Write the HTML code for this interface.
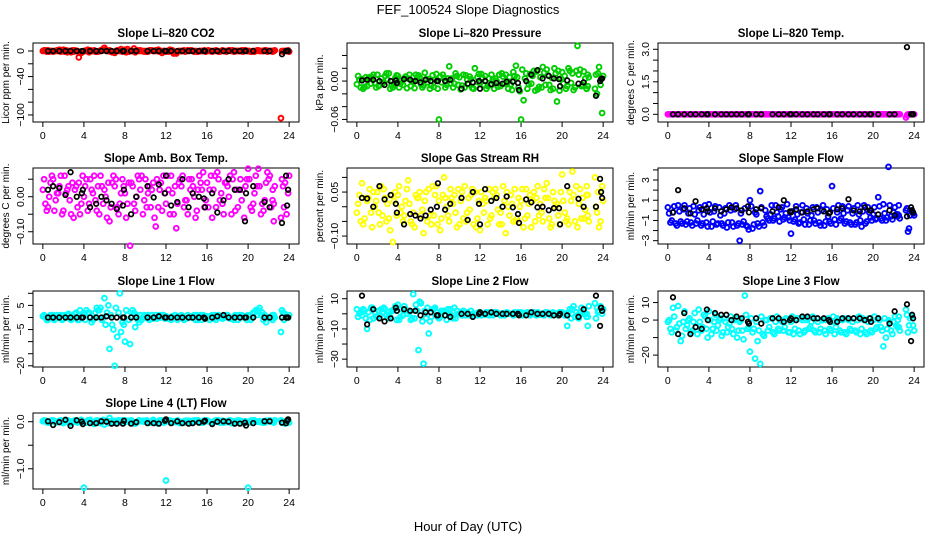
<!DOCTYPE html>
<html><head><meta charset="utf-8"><style>
body{margin:0;background:#fff;}
svg text{font-family:"Liberation Sans",sans-serif;fill:#000;}
</style></head><body>
<svg id="chart" width="936" height="540" viewBox="0 0 936 540" xmlns="http://www.w3.org/2000/svg">
<text x="468" y="14" font-size="13" text-anchor="middle">FEF_100524  Slope Diagnostics</text>
<text x="468" y="531" font-size="13" text-anchor="middle">Hour of Day (UTC)</text>
</svg>
<script>
const hoursColorA=[0,0.5,1,1.5,2,2.5,3,3.5,4,4.5,5,5.5,6,6.5,7,7.5,8,8.5,9,9.5,10,10.5,11,11.5,12,12.5,13,13.5,14,14.5,15,15.5,16,16.5,17,17.5,18,18.5,19,19.5,20,20.5,21,21.5,22,22.5,23.2,23.6];
const hoursColorB=[0.25,0.75,1.25,1.75,2.25,2.75,3.25,3.75,4.25,4.75,5.25,5.75,6.25,6.75,7.25,7.75,8.25,8.75,9.25,9.75,10.25,10.75,11.25,11.75,12.25,12.75,13.25,13.75,14.25,14.75,15.25,15.75,16.25,16.75,17.25,17.75,18.25,18.75,19.25,19.75,20.25,20.75,21.25,21.75,22.25,22.5,23.4,23.9];
const hoursColorC=[0.12,0.62,1.12,1.62,2.12,2.62,3.12,3.62,4.12,4.62,5.12,5.62,6.12,6.62,7.12,7.62,8.12,8.62,9.12,9.62,10.12,10.62,11.12,11.62,12.12,12.62,13.12,13.62,14.12,14.62,15.12,15.62,16.12,16.62,17.12,17.62,18.12,18.62,19.12,19.62,20.12,20.62,21.12,21.62,22.12,22.4,23.3,23.75];
const hoursColorD=[0.38,0.88,1.38,1.88,2.38,2.88,3.38,3.88,4.38,4.88,5.38,5.88,6.38,6.88,7.38,7.88,8.38,8.88,9.38,9.88,10.38,10.88,11.38,11.88,12.38,12.88,13.38,13.88,14.38,14.88,15.38,15.88,16.38,16.88,17.38,17.88,18.38,18.88,19.38,19.88,20.38,20.88,21.38,21.88,22.38,22.6,23.5,24.0];
const hoursBlack=[0.5,1.0,1.6,2.2,2.7,3.3,3.8,3.9,4.6,5.2,5.7,6.2,6.7,7.2,7.8,7.9,8.6,9.1,10.2,10.8,11.3,11.9,12.0,12.5,13.1,13.6,14.2,14.6,15.2,15.7,15.8,16.5,17.0,17.6,18.1,18.7,19.2,19.7,19.8,20.5,21.6,22.1,23.3,23.7,23.8,23.9];

const co2A=[0,1,-1,0,2,0,-1,-10,0,-2,1,0,5,1,-3,0,2,0,-2,1,0,1,1,0,-1,1,-4,0,0,1,-1,0,0,-1,0,1,0,1,0,-1,0,0,1,0,0,0,-105,0];
const co2B=[1,0,0,-1,1,-2,0,-3,1,0,-1,2,0,-2,1,-1,3,0,1,0,-1,0,2,0,-1,-4,0,1,0,-1,0,1,0,0,-1,0,1,0,0,1,-1,0,0,1,0,0,-1,1];
const co2C=[1,-1,0,2,-1,0,1,-2,0,1,-1,0,2,-1,0,3,-2,0,1,0,-1,1,0,-3,0,1,-1,0,1,0,-1,0,1,0,-1,0,1,-1,0,1,0,-1,0,1,0,-1,0,0];
const co2D=[-1,0,1,0,-2,1,0,-1,2,0,-1,1,0,-2,1,0,-1,4,0,-1,1,0,-1,0,2,-2,0,-1,1,0,0,-1,0,1,0,-1,0,0,1,0,-1,1,0,-1,0,1,0,-1];
const co2K=[0,0,0,0,0,0,0,0,0,0,0,0,0,0,0,0,0,0,0,0,0,0,0,0,0,0,0,0,0,0,0,0,0,0,0,0,0,0,0,0,0,0,-5,0,0,0];

const presA=[-0.005,0.003,-0.008,0.006,0.010,-0.004,0.002,-0.010,0.008,-0.006,0.004,-0.002,0.009,-0.007,0.003,-0.009,-0.060,0.005,0.023,-0.004,0.006,-0.010,0.007,0.020,-0.003,0.008,-0.006,0.004,-0.008,0.010,-0.005,0.024,-0.060,0.012,-0.004,0.015,-0.010,0.018,0.005,-0.032,0.014,-0.008,0.012,0.055,-0.006,0.010,-0.012,0.022];
const presB=[0.002,-0.009,0.006,-0.003,-0.006,0.008,-0.012,0.005,-0.004,0.007,-0.008,0.010,-0.005,0.003,-0.007,0.011,-0.002,-0.006,0.004,0.008,-0.007,0.002,-0.011,0.006,0.005,-0.008,0.003,-0.009,0.007,-0.012,0.014,-0.010,-0.030,-0.005,0.016,-0.009,0.013,-0.006,0.020,-0.015,0.008,0.016,-0.010,0.018,0.004,-0.008,-0.020,-0.050];
const presC=[0.008,-0.012,0.004,0.010,-0.008,-0.002,0.012,-0.006,-0.010,0.004,0.010,-0.011,0.006,0.013,-0.012,0.002,0.007,-0.010,-0.004,0.012,-0.013,0.009,0.003,-0.008,0.011,-0.012,0.010,0.000,0.012,-0.004,-0.014,0.006,0.018,-0.012,0.008,-0.013,0.022,0.009,-0.012,0.016,-0.004,0.020,-0.014,0.010,0.015,-0.012,0.010,-0.006];
const presD=[-0.010,0.006,-0.004,-0.010,0.004,0.012,-0.006,0.009,0.001,-0.011,0.000,0.006,-0.010,-0.002,0.009,-0.012,0.010,0.004,-0.010,-0.006,0.010,-0.005,-0.012,0.011,-0.006,0.004,-0.012,0.010,-0.004,0.006,0.008,-0.016,0.004,0.011,-0.015,0.006,-0.006,-0.014,0.012,0.004,-0.012,-0.003,0.016,-0.008,-0.012,0.006,0.012,0.008];
const presK=[0.001,0.002,0.002,0.000,-0.006,0.000,0.001,-0.003,0.003,0.002,0.000,-0.002,0.002,0.000,0.000,0.000,0.000,0.002,-0.012,-0.004,-0.002,0.000,-0.012,0.000,-0.005,-0.003,-0.004,-0.001,-0.001,-0.003,-0.014,0.000,0.010,0.017,0.004,0.008,0.004,0.003,-0.008,0.001,-0.004,-0.002,-0.023,0.000,0.003,0.004];

const tempA=[0,0,0,0,0,0,0,0,0,0,0,0,0,0,0,0,0,0,0,0,0,0,0,0,0,0,0,0,0,0,0,0,0,0,0,0,0,0,0,0,0,0,0,0,0,0,-0.15,0];
const tempB=[0,0,0,0,0,0,0,0,0,0,0,0,0,0,0,0,0,0,0,0,0,0,0,0,0,0,0,0,0,0,0,0,0,0,0,0,0,0,0,0,0,0,0,0,0,0,0,0];
const tempC=[0,0,0,0,0,0,0,0,0,0,0,0,0,0,0,0,0,0,0,0,0,0,0,0,0,0,0,0,0,0,0,0,0,0,0,0,0,0,0,0,0,0,0,0,0,0,-0.05,0];
const tempD=[0,0,0,0,0,0,0,0,0,0,0,0,0,0,0,0,0,0,0,0,0,0,0,0,0,0,0,0,0,0,0,0,0,0,0,0,0,0,0,0,0,0,0,0,0,0,0,0];
const tempK=[0,0,0,0,0,0,0,0,0,0,0,0,0,0,0,0,0,0,0,0,0,0,0,0,0,0,0,0,0,0,0,0,0,0,0,0,0,0,0,0,0,0,3.1,0,0,0];

const ambA=[0.02,-0.03,0.05,0.01,-0.04,0.03,-0.06,0.04,0.00,-0.02,0.06,-0.05,0.02,-0.07,0.03,-0.02,0.01,-0.14,-0.04,0.02,0.05,-0.03,-0.085,0.04,-0.02,0.06,-0.09,0.03,-0.01,0.05,-0.04,0.02,0.04,-0.06,0.07,-0.02,0.03,0.05,-0.03,0.02,0.08,-0.02,0.08,-0.04,0.05,-0.02,-0.06,0.04];
const ambB=[-0.02,0.04,-0.01,0.06,0.01,-0.05,0.03,-0.02,0.05,0.02,-0.04,0.03,-0.06,0.04,-0.03,0.05,-0.02,0.03,0.06,-0.05,0.01,0.04,-0.03,0.06,0.02,-0.05,0.04,-0.03,0.05,0.00,0.06,-0.03,0.02,0.06,-0.01,0.04,0.06,-0.04,0.05,0.03,-0.03,0.06,-0.05,0.04,-0.03,-0.07,0.03,0.01];
const ambC=[0.05,0.00,-0.04,0.03,0.06,-0.01,0.02,-0.05,0.03,0.05,-0.01,0.06,0.00,-0.03,0.05,0.01,-0.06,0.04,0.00,0.06,-0.03,0.02,0.05,-0.04,0.06,0.01,-0.02,0.06,-0.05,0.03,0.02,0.07,-0.03,0.02,0.05,-0.05,0.00,0.07,0.02,-0.06,0.05,0.01,0.03,-0.01,0.06,0.02,0.05,-0.05];
const ambD=[-0.04,0.06,0.01,-0.05,0.02,0.04,-0.03,0.06,-0.04,0.01,0.03,-0.02,0.04,0.06,-0.05,0.03,0.04,-0.02,0.05,-0.01,0.03,-0.06,0.02,0.01,-0.05,0.03,0.05,-0.01,0.02,-0.06,0.04,-0.01,0.06,-0.03,0.01,0.04,-0.05,0.02,-0.01,0.05,-0.04,0.03,-0.02,0.07,-0.01,0.03,-0.03,0.06];
const ambK=[0.02,0.03,0.025,0.005,0.07,0.00,0.01,0.02,-0.03,-0.02,0.00,-0.01,-0.02,-0.035,-0.025,0.02,-0.05,0.00,0.03,-0.002,0.035,0.01,0.06,-0.025,-0.015,0.05,-0.03,0.01,0.00,-0.005,-0.03,0.01,-0.045,-0.01,0.05,0.02,0.02,-0.07,0.01,0.03,-0.015,-0.03,-0.075,0.06,-0.025,0.02];

const rhA=[-0.02,0.08,0.02,-0.07,0.05,-0.03,0.01,-0.12,0.04,-0.05,0.09,-0.02,0.03,-0.09,0.06,-0.03,0.02,0.10,-0.05,0.04,-0.06,0.07,-0.01,0.05,-0.08,0.03,-0.04,0.06,-0.02,-0.09,0.04,-0.05,0.02,0.06,-0.07,0.03,-0.02,0.08,-0.06,0.01,0.11,-0.04,0.12,-0.07,0.03,-0.03,0.10,-0.07];
const rhB=[0.04,-0.04,0.06,0.00,-0.06,0.03,-0.08,0.05,-0.02,0.02,-0.05,0.04,-0.03,0.05,-0.06,0.07,-0.04,0.00,0.03,-0.07,0.05,-0.02,0.06,-0.04,0.01,-0.06,0.05,-0.01,0.07,0.00,-0.05,0.03,-0.07,0.01,0.05,-0.03,0.06,-0.04,0.02,-0.06,-0.02,0.05,-0.05,0.06,-0.01,0.04,-0.02,0.07];
const rhC=[0.01,-0.06,0.03,0.05,-0.02,0.06,-0.04,0.02,0.07,-0.03,0.01,-0.07,0.05,0.02,-0.03,0.04,-0.08,0.03,0.06,-0.02,0.02,-0.05,0.04,-0.07,0.05,0.02,-0.03,0.04,-0.06,0.05,0.01,-0.04,0.06,-0.03,0.02,0.07,-0.05,0.03,0.05,-0.03,0.02,-0.06,0.04,0.01,-0.04,0.07,0.00,-0.05];
const rhD=[-0.05,0.03,-0.02,0.02,0.07,-0.05,0.04,-0.03,0.00,0.06,-0.06,0.03,-0.01,-0.05,0.07,-0.06,0.04,-0.03,0.01,0.06,-0.04,0.03,-0.06,0.02,-0.02,0.06,0.03,-0.06,0.02,-0.03,0.06,0.00,-0.04,0.04,-0.05,0.01,0.03,-0.07,0.00,0.05,-0.05,0.02,0.07,-0.04,0.04,-0.05,0.05,0.02];
const rhK=[0.03,0.028,0.00,0.07,0.025,0.04,0.01,-0.02,-0.06,-0.025,-0.03,-0.04,-0.03,-0.01,0.00,0.08,-0.01,0.01,0.03,-0.045,0.05,0.01,-0.06,0.06,0.02,0.03,0.00,0.035,-0.002,-0.025,-0.055,0.025,0.015,-0.002,0.00,-0.012,-0.005,-0.005,-0.06,0.07,0.027,0.00,0.00,0.095,0.05,0.03];

const sampA=[0.3,-0.2,0.5,0.1,-0.3,0.4,0.0,-0.4,0.6,-0.1,0.3,-0.3,0.5,0.1,-3.0,0.2,1.0,-0.2,1.9,0.0,-0.4,0.5,0.1,-0.3,-2.3,0.4,-0.2,0.2,-0.5,0.3,0.0,0.1,2.4,-0.2,0.4,0.0,-0.3,0.5,-0.1,0.3,-0.4,1.3,0.6,4.3,-0.2,0.5,0.0,-0.5];
const sampB=[-1.2,-1.3,-1.1,-1.4,-1.2,-1.3,-1.5,-1.2,-1.6,-1.4,-1.3,-1.7,-1.2,-1.5,-1.4,-1.6,-1.8,-1.3,-1.2,-0.8,-1.0,-0.6,-0.9,-0.7,-1.1,-1.3,-0.9,-1.4,-1.0,-1.2,-1.5,-1.1,-0.9,-1.0,-1.3,-1.2,-1.4,-1.0,-1.3,-0.7,-0.9,-0.8,-1.0,-0.6,-0.4,-0.5,-2.1,-0.3];
const sampC=[-0.3,0.4,-0.1,0.5,0.2,-0.4,0.3,0.5,-0.2,0.4,-0.5,0.2,0.0,0.5,-0.3,-1.5,0.4,-0.4,0.3,-0.6,0.5,-0.2,0.3,0.6,-0.1,-0.4,0.5,-0.3,0.3,-0.2,0.5,-0.6,0.2,0.5,-0.3,0.4,0.2,-0.4,0.5,-0.2,0.3,0.4,-0.3,0.5,0.3,-0.4,0.2,0.0];
const sampD=[-1.0,-1.5,-1.3,-1.1,-1.5,-1.0,-1.3,-1.6,-1.1,-1.3,-1.5,-1.2,-1.6,-1.3,-1.1,-1.9,-1.4,-1.6,-1.5,-1.0,-0.8,-1.1,-0.7,-1.0,-0.9,-1.2,-1.4,-1.0,-1.3,-1.5,-1.1,-1.3,-1.4,-0.8,-1.1,-1.4,-1.2,-1.6,-1.1,-1.0,-0.8,-1.0,-0.7,-0.9,-0.6,-0.8,-1.8,-0.5];
const sampK=[-0.2,2.0,0.2,-0.3,0.9,0.1,0.2,-0.1,0.2,-0.1,0.1,0.3,0.2,0.0,0.4,-0.2,0.1,0.2,-0.1,0.3,1.0,-0.1,-0.2,0.1,-0.2,-0.1,0.1,0.2,-0.1,-0.3,-0.2,0.1,0.2,1.1,0.0,-0.1,0.3,0.0,0.0,-0.4,0.0,-0.5,-0.6,0.3,0.0,-0.2];

const line1A=[0.5,-1,1,0,-0.5,1.5,0,-1,1,2,-0.5,3,8,-13,-20,10,-10,-11,-4,1,0,-0.5,1,0,0.5,-1,0,1,-0.5,0,1,-1,0.5,1,0,-0.5,1,0,-1,0.5,1,2,3,-1,0,0,-6,1.5];
const line1B=[0,1,-0.5,1,0,-1,2,0,3,-2,4,-1,2,-3,-8,-2,1,3,-1,0,1,-0.5,0,1,-0.5,0,0.5,-1,0,1,0.5,0,-1,1,0.5,0,-0.5,1,0,0.5,-1,3,1,-2,0,1,2,0];
const line1C=[1,0,-1,0.5,1,-0.5,1.5,3,-1,0,2,4,-3,1,4,-6,3,0,1,-1,0.5,1,-0.5,1,0,0.5,-1,0.5,1,0,-1,1,0,-0.5,1,0.5,0,-1,1,0,0.5,2,4,1,0,-1,3,0];
const line1D=[-1,0.5,1,-1,1,0,-1,1.5,2,-1,3,0,5,-5,2,-3,-1,2,-2,1,-1,0,1,-0.5,0,1,0,-0.5,0.5,-1,1,0,0.5,-1,0,1,-0.5,0.5,1,-1,0,1,2,0,1,0,-1,1];
const line1K=[0,0,0,0,0,0,0,0,0,0,0,0.5,0,0,0,0,0,0,0,0,0.5,0,0,0,0,0,0,0,0,0,-0.5,0,0.5,1,0,0,0,0,0,0,0,0,0,0,0,0];

const line2A=[3,-1,-10,4,-2,1,-3,2,6,-1,2,13,-24,-33,-13,3,-3,2,-1,4,0,1,-1,0,1,-0.5,0,1,-1,0.5,0,-0.5,1,0,0.5,-1,0,1,0,-0.5,1,-8,3,-1,0,-8,7,2];
const line2B=[0,2,-4,1,-1,3,-2,5,-2,3,-4,6,7,-3,-2,1,2,-4,-1,2,-1,1,0,-1,0,1,-1,0,0.5,0,-1,1,0,-0.5,1,0,-1,0.5,0,1,-1,3,-2,1,0,-2,4,0];
const line2C=[-2,3,1,-3,2,4,-1,3,-4,5,1,-3,8,2,-5,4,-2,-1,3,-3,1,-1,2,0,-1,1,0,1,-0.5,1,0,0.5,-1,1,0,1,-0.5,0,1,-1,0.5,1,5,-3,2,0,-3,5];
const line2D=[1,-3,4,-2,3,-1,2,-4,3,0,-3,2,-5,4,3,-2,1,3,-3,0,2,0,-1,1,0,-1,1,0,-1,0,1,-0.5,0.5,-1,0,-0.5,1,-1,0,0.5,-1,-3,1,4,-2,5,1,3];
const line2K=[12,-7,3,-3,-5,-3,4,2,3,2,2,-1,1,1,-1,-1,-1,-2,0,0,-2,0,1,0,1,0,0,0,0,0,-1,-1,1,0,0,0,-1,-1,0,-1,-2,3,12,-8,4,2];

const line3A=[-1,7,8,-1,0,-1,6,3,5,-1,0,1,-2,0,-1,14,-18,-22,-25,0,1,-1,0,1,-1,0,1,0,-1,1,0,0,-1,1,0,1,-1,0,1,-1,0,1,-15,0,-1,2,6,1];
const line3B=[-5,-6,-12,-5,-7,-4,-6,-5,-8,-6,-9,-7,-5,-10,-6,-5,-7,-12,-8,-6,-7,-5,-6,-7,-8,-6,-7,-5,-6,-7,-6,-5,-8,-6,-7,-5,-6,-8,-7,-6,-5,-4,-10,-6,-3,-4,-7,-3];
const line3C=[0,2,-2,5,1,4,-1,2,0,3,1,-1,2,1,0,3,1,-1,2,0,1,2,-1,0,2,1,0,1,2,-1,0,1,2,0,1,0,1,2,0,1,2,0,1,-1,2,0,3,2];
const line3D=[-7,-4,-9,-3,-6,-8,-4,-10,-5,-3,-7,-4,-8,-6,-11,-4,-5,-6,-9,-4,-8,-6,-4,-7,-5,-8,-6,-4,-7,-5,-8,-6,-4,-7,-8,-6,-7,-5,-8,-7,-4,-6,-5,-8,-4,-6,-3,-6];
const line3K=[13,-8,4,-8,-4,-5,6,0,4,3,3,0,2,1,-1,-2,1,-2,1,1,-1,0,1,0,2,2,1,1,1,0,-1,-1,1,1,1,1,0,1,-1,1,-2,5,9,-12,3,1];

const line4A=[0.01,-0.02,0.03,0,-0.03,0.02,0,-0.01,-1.4,0.02,-0.05,0.01,-0.06,0.08,0.02,-0.01,0.03,0,-0.04,0.02,0.01,-0.02,0,0.03,-1.25,0.02,-0.01,0,0.02,-0.02,0.01,0,0.03,-0.02,0,0.02,-0.01,0.01,0,-0.03,-1.4,0.02,0,0.01,0.02,-0.01,0.03,-0.04];
const line4B=[0.02,0,-0.02,0.03,0.01,-0.03,0.02,0.04,-0.02,0,0.03,-0.01,0.02,0,-0.02,0.03,0.01,-0.03,0,0.02,-0.01,0.04,0,-0.02,0.03,0,0.01,-0.02,0.02,0,-0.01,0.03,0,0.02,-0.02,0.01,0.03,0,-0.02,0.01,0.02,0,-0.01,0.02,0,-0.02,0.01,0.02];
const line4C=[0.03,-0.02,0.01,0.02,0,-0.04,0.03,0.01,-0.02,0.04,0,-0.03,0.02,0.01,-0.03,0.02,0,0.03,-0.02,0.01,0.03,0,-0.03,0.02,0.01,-0.02,0.03,0,-0.01,0.02,0.03,-0.02,0.01,0,0.03,-0.02,0.02,-0.01,0.03,0,-0.02,0.03,0.01,-0.02,0.03,0,-0.02,0.01];
const line4D=[-0.01,0.03,0,-0.02,0.03,0.01,-0.02,0,0.03,-0.01,0.02,0.04,-0.03,0.01,0.03,-0.02,0.02,-0.01,0.03,0,-0.02,0.01,0.03,-0.01,0.02,0.01,-0.03,0.02,0,0.03,-0.02,0.01,-0.01,0.03,0,0.01,-0.03,0.02,0.01,-0.01,0.03,0,-0.02,0.01,-0.01,0.03,0,-0.02];
const line4K=[0.01,-0.07,-0.01,0.04,-0.09,0.03,0.0,-0.05,-0.03,-0.03,0.01,0.0,-0.04,-0.04,-0.04,0.02,-0.04,-0.01,-0.03,-0.03,-0.04,0.02,0.05,-0.03,0.01,-0.03,-0.04,-0.03,-0.02,0.0,0.02,-0.05,0.0,0.01,0.0,-0.04,-0.04,-0.02,-0.08,-0.03,0.01,0.01,-0.02,-0.03,0.02,0.05];

const xTicks=[0,4,8,12,16,20,24];

const NS="http://www.w3.org/2000/svg";
const svg=document.getElementById('chart');
function mk(tag,attrs,parent){const e=document.createElementNS(NS,tag);for(const k in attrs)e.setAttribute(k,attrs[k]);(parent||svg).appendChild(e);return e;}

const colX=[33,347,658], rowY=[43,168,291,413], rowH=[79,76,76,76], W=266;
const panels=[
 {title:"Slope Li-820 CO2",ylab:"Licor ppm per min.",col:"#ff0000",s:[co2A,co2B,co2C,co2D],k:co2K,dom:[-111,12.5],ticks:[-100,-80,-60,-40,-20,0],labels:[[0,"0"],[-40,"-40"],[-100,"-100"]],c:0,r:0},
 {title:"Slope Li-820 Pressure",ylab:"kPa per min.",col:"#00cd00",s:[presA,presB,presC,presD],k:presK,dom:[-0.064,0.0595],ticks:[-0.06,-0.04,-0.02,0,0.02,0.04],labels:[[0,"0.00"],[-0.06,"-0.06"]],c:1,r:0},
 {title:"Slope Li-820 Temp.",ylab:"degrees C per min.",col:"#ff00ff",s:[tempA,tempB,tempC,tempD],k:tempK,dom:[-0.355,3.29],ticks:[0,0.5,1,1.5,2,2.5,3],labels:[[0,"0.0"],[1.5,"1.5"],[3,"3.0"]],c:2,r:0},
 {title:"Slope Amb. Box Temp.",ylab:"degrees C per min.",col:"#ff00ff",s:[ambA,ambB,ambC,ambD],k:ambK,dom:[-0.135,0.082],ticks:[-0.1,-0.05,0,0.05],labels:[[0,"0.00"],[-0.1,"-0.10"]],c:0,r:1},
 {title:"Slope Gas Stream RH",ylab:"percent per min.",col:"#ffff00",s:[rhA,rhB,rhC,rhD],k:rhK,dom:[-0.127,0.132],ticks:[-0.1,-0.05,0,0.05,0.1],labels:[[0.05,"0.05"],[-0.1,"-0.10"]],c:1,r:1},
 {title:"Slope Sample Flow",ylab:"ml/min per min.",col:"#0000ff",s:[sampA,sampB,sampC,sampD],k:sampK,dom:[-3.33,4.19],ticks:[-3,-2,-1,0,1,2,3,4],labels:[[3,"3"],[1,"1"],[-1,"-1"],[-3,"-3"]],c:2,r:1},
 {title:"Slope Line 1 Flow",ylab:"ml/min per min.",col:"#00ffff",s:[line1A,line1B,line1C,line1D],k:line1K,dom:[-20.5,10.96],ticks:[-20,-15,-10,-5,0,5,10],labels:[[5,"5"],[-5,"-5"],[-20,"-20"]],c:0,r:2},
 {title:"Slope Line 2 Flow",ylab:"ml/min per min.",col:"#00ffff",s:[line2A,line2B,line2C,line2D],k:line2K,dom:[-35.2,15.1],ticks:[-30,-20,-10,0,10],labels:[[10,"10"],[-10,"-10"],[-30,"-30"]],c:1,r:2},
 {title:"Slope Line 3 Flow",ylab:"ml/min per min.",col:"#00ffff",s:[line3A,line3B,line3C,line3D],k:line3K,dom:[-26.8,16.6],ticks:[-20,-10,0,10],labels:[[10,"10"],[0,"0"],[-20,"-20"]],c:2,r:2},
 {title:"Slope Line 4 (LT) Flow",ylab:"ml/min per min.",col:"#00ffff",s:[line4A,line4B,line4C,line4D],k:line4K,dom:[-1.43,0.185],ticks:[-1,-0.5,0],labels:[[0,"0.0"],[-1,"-1.0"]],c:0,r:3}
];
const hourSets=[hoursColorA,hoursColorB,hoursColorC,hoursColorD];

panels.forEach((p,i)=>{
  const L=colX[p.c], T=rowY[p.r], H=rowH[p.r], B=T+H, R=L+W;
  const g=mk('g',{});
  
  
  const xs=v=>L+(v+0.96)/25.92*W;
  const ys=v=>B-(v-p.dom[0])/(p.dom[1]-p.dom[0])*H;
  const t=mk('text',{x:(L+R)/2,y:T-6,'font-size':'11.5','font-weight':'bold','text-anchor':'middle'},g);
  t.textContent=p.title.replace(/-/g,'\u2013');
  
  
  const box=mk('rect',{x:L,y:T,width:W,height:H,fill:'none',stroke:'#000','stroke-width':1},g);
  
  
  const xa=mk('g',{},g);
  
  
  mk('line',{x1:xs(xTicks[0]),x2:xs(xTicks[xTicks.length-1]),y1:B,y2:B,stroke:'#000'},xa);
  xTicks.forEach(v=>{
    mk('line',{x1:xs(v),x2:xs(v),y1:B,y2:B+5,stroke:'#000'},xa);
    const tx=mk('text',{x:xs(v),y:B+17,'font-size':'10.5','text-anchor':'middle'},xa);
    tx.textContent=v;
    
    
  });
  const ya=mk('g',{},g);
  
  
  const tk=p.ticks;
  mk('line',{x1:L,x2:L,y1:ys(tk[0]),y2:ys(tk[tk.length-1]),stroke:'#000'},ya);
  tk.forEach(v=>mk('line',{x1:L-5,x2:L,y1:ys(v),y2:ys(v),stroke:'#000'},ya));
  p.labels.forEach(([v,s])=>{
    const yy=ys(v);
    const tx=mk('text',{x:L-9,y:yy,'font-size':'10.5','text-anchor':'middle',transform:`rotate(-90 ${L-9} ${yy})`},ya);
    tx.textContent=s.replace(/^-/,'\u2212');
    
    
  });
  const yl=mk('text',{x:L-24,y:(T+B)/2,'font-size':'10','text-anchor':'middle',transform:`rotate(-90 ${L-24} ${(T+B)/2})`},g);
  yl.textContent=p.ylab;
  
  
  const cg=mk('g',{fill:'none',stroke:p.col,'stroke-width':1.9},g);
  
  
  p.s.forEach((vals,si)=>{
    const hx=hourSets[si];
    vals.forEach((v,j)=>{
      const c=mk('circle',{cx:xs(hx[j]),cy:ys(v),r:2.4},cg);
      
      
    });
  });
  const kg=mk('g',{fill:'none',stroke:'#000','stroke-width':1.7},g);
  
  
  p.k.forEach((v,j)=>{
    const c=mk('circle',{cx:xs(hoursBlack[j]),cy:ys(v),r:2.3},kg);
    
    
  });
});
</script>
</body></html>
